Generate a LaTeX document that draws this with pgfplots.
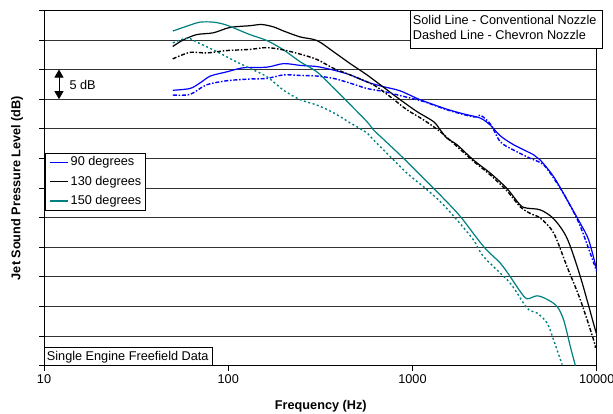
\documentclass[border=0pt]{standalone}
\usepackage{pgfplots}
\pgfplotsset{compat=1.18}
\usepackage{fontspec}
\setmainfont{Liberation Sans}
\usetikzlibrary{arrows.meta}
\newcommand{\fs}{\fontsize{12.7bp}{15bp}\selectfont}
\definecolor{teal2}{RGB}{0,128,128}

\pgfplotstableread{
f db
50 46.5
62 46.8
70 47.7
80 48.9
98 49.6
121 50.3
162 50.4
200 51.0
246 50.7
303 50.5
373 49.9
459 49.1
566 47.9
697 47.1
858 46.4
1102 44.9
1539 43.3
1900 42.5
2335 41.8
2647 40.6
3000 38.8
3541 37.3
4548 35.6
4946 34.7
5841 31.9
6907 28.0
8156 24.0
9050 21.2
10000 16.2
}\bluesolid

\pgfplotstableread{
f db
50 45.7
62 45.8
76 47.4
98 48.1
131 48.4
162 48.5
200 49.1
246 49.0
303 48.9
373 48.5
459 47.7
566 46.8
697 46.3
858 45.6
1149 44.6
1539 43.2
2147 42.0
2335 42.3
2647 40.8
3000 37.8
3541 36.4
4364 35.0
5154 33.9
6095 30.8
6907 28.0
8156 23.5
10000 15.9
}\bluedash

\pgfplotstableread{
f db
50 53.9
57 55.0
67.5 55.9
83 56.2
102 57.1
131 57.4
152 57.6
176 57.2
200 56.5
246 55.5
303 54.9
373 53.0
459 51.0
566 49.1
697 47.0
858 44.9
1058 42.9
1302 41.2
1416 39.8
1539 38.4
1745 37.3
2147 34.7
2647 32.5
3261 29.9
3851 27.1
4188 26.6
4946 26.3
5841 24.8
6907 21.5
8156 15.0
9838 6.0
10000 5.5
}\blacksolid

\pgfplotstableread{
f db
50 51.8
62 52.9
76.5 52.8
98 53.2
131 53.4
162 53.7
200 53.3
246 52.6
303 51.7
373 50.2
459 49.1
615 47.4
758 45.4
934 43.2
1149 41.5
1416 39.5
1745 37.0
2147 34.5
2647 32.2
3261 29.5
3851 26.8
4364 25.7
4946 24.9
5841 22.4
6907 16.7
8156 11.1
9632 4.3
9838 3.0
}\blackdash

\pgfplotstableread{
f db
50 56.5
62 57.5
70 58.0
83 58.0
98 57.5
131 55.9
162 54.9
200 53.3
246 51.3
303 49.6
373 46.9
459 44.1
566 41.2
615 39.8
697 38.2
895 35.0
1276 30.2
1416 28.8
1818 25.2
2434 20.1
3000 17.3
3398 15.0
3851 12.5
4188 11.3
4747 11.8
5378 11.2
6095 10.0
6619 7.7
7196 3.2
7662 0
}\tealsolid

\pgfplotstableread{
f db
50 54.5
60 55.3
70 54.4
87 53.0
106 51.6
131 50.2
162 48.8
200 46.5
246 44.9
303 44.0
373 42.7
459 41.0
566 39.3
615 38.1
758 35.3
934 32.5
1149 30.2
1416 27.7
1745 24.6
2147 21.2
2434 18.4
3398 13.9
4188 9.7
4747 8.9
5378 7.2
5841 4.3
6490 0.2
}\tealdash

\begin{document}
\begin{tikzpicture}
\useasboundingbox (0,0) rectangle (613bp,414bp);
\begin{axis}[
  at={(44bp,48.3bp)}, anchor=south west,
  scale only axis, width=552.7bp, height=355.4bp,
  xmode=log, xmin=10, xmax=10000, ymin=0, ymax=60,
  xtick={10,100,1000,10000}, xticklabels={10,100,1000,10000},
  xminorticks=false,
  ytick={0,5,...,60}, yticklabels={},
  tick pos=left, tick align=outside, major tick length=5bp,
  ymajorgrids, major grid style={black!80, line width=0.8bp},
  axis line style={black, line width=1bp},
  tick style={black, line width=0.8bp},
  ticklabel style={font=\fs},
  /pgf/number format/assume math mode=true,
  xlabel={Frequency (Hz)}, ylabel={Jet Sound Pressure Level (dB)},
  label style={font=\fs\bfseries},
  xlabel style={at={(axis description cs:0.5008,-0.1134)}, anchor=center},
  ylabel style={at={(axis description cs:-0.0488,0.5)}, anchor=center},
  legend cell align=left,
  legend style={at={(axis description cs:0.0018,0.5993)}, anchor=north west,
    draw=black, fill=white, inner xsep=4bp, inner ysep=3bp,
    row sep=6.3bp, column sep=2.3bp,
    nodes={inner sep=0pt, text height=10bp, text depth=3bp, font=\fs}},
  legend image code/.code={\draw[#1] (0bp,0bp) -- (18bp,0bp);},
]
\addplot[blue, line width=1.2bp, smooth, forget plot] table[x=f,y=db] {\bluesolid};
\addplot[black, line width=1.2bp, smooth, forget plot] table[x=f,y=db] {\blacksolid};
\addplot[teal2, line width=1.2bp, smooth, forget plot] table[x=f,y=db] {\tealsolid};
\addplot[blue, line width=1.4bp, smooth, forget plot, dash pattern=on 4bp off 1.8bp on 1.5bp off 1.8bp] table[x=f,y=db] {\bluedash};
\addplot[black, line width=1.4bp, smooth, forget plot, dash pattern=on 4bp off 1.8bp on 1.5bp off 1.8bp] table[x=f,y=db] {\blackdash};
\addplot[teal2, line width=1.4bp, smooth, forget plot, dash pattern=on 2bp off 2.5bp] table[x=f,y=db] {\tealdash};
\addlegendimage{color=blue, line width=1.2bp}
\addlegendentry{90 degrees}
\addlegendimage{color=black, line width=1.2bp}
\addlegendentry{130 degrees}
\addlegendimage{color=teal2, line width=1.2bp}
\addlegendentry{150 degrees}
\draw[{Triangle[length=8bp,width=9bp]}-{Triangle[length=8bp,width=9bp]}, line width=0.8bp] (axis cs:12.06,45) -- (axis cs:12.06,50);
\end{axis}
\node[anchor=base west, inner sep=0pt, font=\fs] at (69.3bp,324bp) {5 dB};
\draw[fill=white, line width=0.8bp] (410.7bp,365.7bp) rectangle (602bp,404bp);
\node[anchor=base west, inner sep=0pt, font=\fs] at (412.7bp,389bp) {Solid Line - Conventional Nozzle};
\node[anchor=base west, inner sep=0pt, font=\fs] at (412.7bp,374bp) {Dashed Line - Chevron Nozzle};
\draw[fill=white, line width=0.8bp] (44bp,48.3bp) rectangle (212.7bp,66.3bp);
\node[anchor=base west, inner sep=0pt, font=\fs] at (46.7bp,53.3bp) {Single Engine Freefield Data};
\end{tikzpicture}
\end{document}
